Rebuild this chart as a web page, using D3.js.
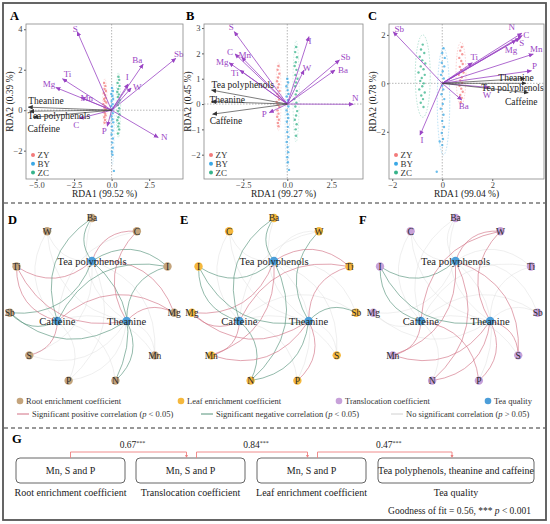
<!DOCTYPE html>
<html><head><meta charset="utf-8">
<script src="https://cdn.jsdelivr.net/npm/d3@7"></script>
<style>
body{margin:0;background:#fff}
text{font-family:"Liberation Serif","Times New Roman",serif}
</style></head><body>
<div id="fig"></div>
<script>
// ---- RDA sample scores ----
var groups = ['ZY','BY','ZC'];
var groupColours = {ZY:'#F27A7A', BY:'#3AA8E6', ZC:'#36B38A'};

var ptsA_ZY = [[-0.5,1.35],[-0.42,1.2],[-0.47,1.05],[-0.38,0.95],[-0.52,0.85],[-0.44,0.75],[-0.4,0.62],[-0.5,0.55],[-0.46,0.45],[-0.36,0.38],[-0.55,0.3],[-0.43,0.2],[-0.48,0.12],[-0.39,0.05],[-0.52,-0.05],[-0.45,-0.15],[-0.41,-0.25],[-0.49,-0.35],[-0.44,-0.48],[-0.47,-0.62]];
var ptsA_BY = [[0.02,1.1],[0.08,0.95],[-0.02,0.8],[0.05,0.7],[0.1,0.55],[0.0,0.45],[0.06,0.3],[-0.03,0.2],[0.09,0.1],[0.03,0.0],[0.07,-0.15],[-0.01,-0.3],[0.05,-0.45],[0.1,-0.6],[0.02,-0.8],[0.06,-1.0],[0.0,-1.2],[0.08,-1.4],[0.04,-1.6],[0.07,-1.85],[0.02,-2.05],[0.05,-2.2],[0.15,-3.0]];
var ptsA_ZC = [[0.45,1.65],[0.5,1.5],[0.4,1.35],[0.52,1.2],[0.44,1.05],[0.38,0.9],[0.48,0.78],[0.42,0.65],[0.55,0.5],[0.46,0.38],[0.4,0.25],[0.5,0.1],[0.43,-0.05],[0.52,-0.2],[0.45,-0.35],[0.38,-0.5],[0.48,-0.65],[0.44,-0.8],[0.5,-0.95],[0.42,-1.15]];

var ptsB_ZY = [[-0.5,1.5],[-0.55,1.35],[-0.45,1.2],[-0.52,1.05],[-0.58,0.9],[-0.48,0.78],[-0.53,0.65],[-0.44,0.52],[-0.56,0.4],[-0.5,0.3],[-0.47,0.18],[-0.6,0.08],[-0.52,-0.02],[-0.45,-0.12],[-0.55,-0.25],[-0.5,-0.38],[-0.57,-0.5],[-0.48,-0.62],[-0.53,-0.75],[-0.5,-0.88]];
var ptsB_BY = [[0.0,1.0],[0.05,0.85],[-0.05,0.7],[0.02,0.55],[0.07,0.4],[-0.03,0.3],[0.04,0.15],[0.0,0.05],[0.06,-0.1],[-0.04,-0.25],[0.02,-0.4],[0.05,-0.55],[-0.02,-0.7],[0.03,-0.9],[0.0,-1.1],[0.06,-1.3],[-0.03,-1.5],[0.02,-1.7],[0.05,-1.9],[0.0,-2.1],[0.03,-2.3],[0.1,-2.6]];
var ptsB_ZC = [[0.5,2.25],[0.45,2.05],[0.55,1.85],[0.48,1.65],[0.42,1.5],[0.52,1.35],[0.46,1.15],[0.58,1.0],[0.5,0.85],[0.44,0.7],[0.54,0.52],[0.48,0.38],[0.4,0.2],[0.52,0.05],[0.46,-0.1],[0.56,-0.28],[0.5,-0.45],[0.43,-0.62],[0.53,-0.8],[0.48,-1.0],[0.5,-1.25]];

var ptsC_ZY = [[0.78,1.5],[0.72,1.35],[0.8,1.2],[0.68,1.05],[0.76,0.92],[0.82,0.8],[0.7,0.68],[0.75,0.55],[0.85,0.45],[0.66,0.35],[0.78,0.25],[0.72,0.12],[0.8,0.02],[0.69,-0.1],[0.76,-0.22],[0.82,-0.35],[0.72,-0.48],[0.78,-0.6],[0.74,-0.78]];
var ptsC_BY = [[0.05,1.45],[0.0,1.25],[0.1,1.05],[-0.02,0.85],[0.08,0.7],[0.02,0.5],[-0.05,0.35],[0.06,0.2],[0.12,0.05],[0.0,-0.1],[0.04,-0.25],[-0.03,-0.45],[0.08,-0.65],[0.02,-0.85],[-0.06,-1.05],[0.05,-1.3],[0.0,-1.55],[0.07,-1.8],[-0.02,-2.05],[0.03,-2.3],[0.0,-2.55],[-0.1,-2.4],[-0.22,-3.65]];
var ptsC_ZC = [[-0.78,1.6],[-0.85,1.4],[-0.72,1.25],[-0.9,1.1],[-0.8,0.95],[-0.68,0.82],[-0.86,0.7],[-0.75,0.58],[-0.95,0.45],[-0.7,0.35],[-0.82,0.22],[-0.88,0.1],[-0.74,0.0],[-0.8,-0.12],[-0.92,-0.25],[-0.7,-0.38],[-0.84,-0.5],[-0.77,-0.65],[-0.86,-0.8],[-0.75,-0.98]];

// confidence ellipses: group, centre x, centre y, half width, half height
var ellA = [['ZY',-0.45,0.35,0.15,1.2],['BY',0.05,-0.7,0.12,2.0],['ZC',0.45,0.25,0.15,1.6]];
var ellB = [['ZY',-0.5,0.3,0.15,1.35],['BY',0.0,-0.8,0.12,1.9],['ZC',0.5,0.5,0.18,2.0]];
var ellC = [['ZY',0.75,0.4,0.2,1.3],['BY',0.05,-0.75,0.25,2.2],['ZC',-0.78,0.3,0.3,1.7]];

// element loadings (arrow tips)
var envA = [['S',-2.29,3.88],['Ba',2.1,2.28],['Sb',4.27,2.56],['Ti',-3.27,1.55],['Mg',-3.71,1.12],['Mn',-2.05,0.63],['I',1.1,1.3],['W',1.3,1.1],['C',-2.16,-0.41],['P',-0.29,-0.79],['N',3.1,-1.35]];
var envB = [['S',-3.01,2.86],['C',-2.97,1.98],['Mn',-2.59,1.85],['Mg',-3.3,1.63],['Ti',-2.69,1.34],['I',1.23,2.66],['W',0.95,1.34],['Sb',2.96,1.74],['Ba',2.71,1.34],['N',3.75,-0.01],['P',-1.02,-0.34]];
var envC = [['Sb',-1.96,2.13],['N',3.18,2.07],['C',3.2,1.97],['S',3.1,1.86],['Mg',2.95,1.78],['Mn',3.64,1.21],['Ti',1.2,0.85],['P',3.57,0.52],['W',1.87,-0.17],['Ba',0.78,-0.69],['I',-0.89,-2.14]];
// tea quality loadings
var teaA = [['Theanine',-5.55,0.15],['Tea polyphenols',-5.45,-0.05],['Caffeine',-5.2,-0.35]];
var teaB = [['Tea polyphenols',-4.3,0.55],['Theanine',-4.3,0.1],['Caffeine',-4.24,-0.4]];
var teaC = [['Theanine',3.31,0.2],['Tea polyphenols',3.35,0.0],['Caffeine',3.44,-0.39]];

var xTicksA = [-5,-2.5,0,2.5], yTicksA = [-2,0,2,4];
var xTicksB = [-2.5,0,2.5],    yTicksB = [-2,-1,0,1,2,3];
var xTicksC = [-2,0,2],        yTicksC = [-2,0,2];

// ---- correlation networks ----
var elements = ['Ba','C','I','Mg','Mn','N','P','S','Sb','Ti','W'];
var quality = ['Tea polyphenols','Caffeine','Theanine'];
var ringD = ['Ba','C','I','Mg','Mn','N','P','S','Sb','Ti','W'];
var ringEF = ['Ba','W','Ti','Sb','S','P','N','Mn','Mg','I','C'];
// p = significant positive, n = significant negative, 0 = not significant (order = elements)
var sigD_tp  = ['n','p','n','p','0','n','0','0','n','p','0'];
var sigD_caf = ['n','0','n','p','0','0','0','p','n','p','0'];
var sigD_the = ['0','p','n','p','0','n','0','0','n','p','0'];
var sigE_tp  = ['n','0','n','p','p','n','0','0','0','p','0'];
var sigE_caf = ['n','0','n','p','p','n','0','0','0','p','0'];
var sigE_the = ['0','0','n','p','p','n','p','0','n','p','n'];
var sigF_tp  = ['0','0','n','0','p','p','0','p','0','0','p'];
var sigF_caf = ['0','0','n','0','p','0','p','0','0','0','p'];
var sigF_the = ['0','0','n','0','p','p','p','p','0','0','p'];

// ---- PLS-PM ----
var blockNames = ['Root enrichment coefficient','Translocation coefficient','Leaf enrichment coefficient','Tea quality'];
var blockItems = ['Mn, S and P','Mn, S and P','Mn, S and P','Tea polyphenols, theanine and caffeine'];
var pathCoefs = ['0.67','0.84','0.47'];

// ---- drawing ----
var purple = '#9A45C4';
var svg = d3.select('#fig').append('svg').attr('width', 550).attr('height', 524);
var defs = svg.append('defs');
function marker(id, col){
  defs.append('marker').attr('id', id).attr('viewBox','0 0 10 10').attr('refX',9).attr('refY',5)
    .attr('markerWidth',5).attr('markerHeight',5).attr('markerUnits','userSpaceOnUse').attr('orient','auto')
    .append('path').attr('d','M0,0.5L10,5L0,9.5z').attr('fill', col);
}
marker('arrP', purple); marker('arrK', '#333');

svg.append('rect').attr('x',3).attr('y',3).attr('width',543).attr('height',517)
  .attr('fill','none').attr('stroke','#555').attr('stroke-width',1.8);
[203,428].forEach(function(y){
  svg.append('line').attr('x1',4).attr('x2',545).attr('y1',y).attr('y2',y)
    .attr('stroke','#333').attr('stroke-width',1.2).attr('stroke-dasharray','4,3');
});

var nudge = {
  A: {S:[-2,-3],Ba:[-6,-4],Sb:[3,-5],Ti:[5,-5],Mg:[-7,-4],Mn:[6,0],I:[-1,-7],W:[6,-1],C:[-3,6],P:[-3,5],N:[6,-1],
      'Theanine':[0,-6.5,'start'],'Tea polyphenols':[-2,4,'start'],'Caffeine':[-6,11,'start']},
  B: {S:[-3,-5],C:[-5,-2],Mn:[3,-2],Mg:[-7,-1],Ti:[-5,3],I:[1,4],W:[3,-2],Sb:[6,-3],Ba:[8,0],N:[2,-6],P:[-5,1],
      'Tea polyphenols':[0,-5,'start'],'Theanine':[-2,-2,'start'],'Caffeine':[-3,7,'start']},
  C: {Sb:[6,-3],N:[-10,-6],C:[4,-1],S:[2,5],Mg:[-5,10],Mn:[3,-5],Ti:[2,-6],P:[3,-5],W:[-2,7],Ba:[2,6],I:[2,5],
      'Theanine':[-9,-1,'middle'],'Tea polyphenols':[-13.5,4.4,'middle'],'Caffeine':[-7,9,'middle']}
};

var panels = [
  {id:'A', x0:26, x1:183, xd:[-5.7,4.75], yd:[-3.4,4.26], xt:xTicksA, yt:yTicksA, xf:'.1f', lx:10,
   xl:'RDA1 (99.52 %)', yl:'RDA2 (0.39 %)', pts:{ZY:ptsA_ZY,BY:ptsA_BY,ZC:ptsA_ZC}, ell:ellA, env:envA, tea:teaA},
  {id:'B', x0:204, x1:363, xd:[-4.73,4.3], yd:[-2.96,3.16], xt:xTicksB, yt:yTicksB, xf:'.1f', lx:186,
   xl:'RDA1 (99.27 %)', yl:'RDA2 (0.45 %)', pts:{ZY:ptsB_ZY,BY:ptsB_BY,ZC:ptsB_ZC}, ell:ellB, env:envB, tea:teaB},
  {id:'C', x0:389, x1:544, xd:[-2.13,4.07], yd:[-3.95,2.45], xt:xTicksC, yt:yTicksC, xf:'d', lx:368,
   xl:'RDA1 (99.04 %)', yl:'RDA2 (0.78 %)', pts:{ZY:ptsC_ZY,BY:ptsC_BY,ZC:ptsC_ZC}, ell:ellC, env:envC, tea:teaC}
];
var top0 = 24, bot0 = 179;

panels.forEach(function(p){
  var x = d3.scaleLinear().domain(p.xd).range([p.x0, p.x1]);
  var y = d3.scaleLinear().domain(p.yd).range([bot0, top0]);
  var g = svg.append('g');
  var nd = nudge[p.id];

  g.append('line').attr('x1',x(0)).attr('x2',x(0)).attr('y1',top0).attr('y2',bot0)
    .attr('stroke','#888').attr('stroke-width',0.6).attr('stroke-dasharray','1.5,1.5');
  g.append('line').attr('x1',p.x0).attr('x2',p.x1).attr('y1',y(0)).attr('y2',y(0))
    .attr('stroke','#888').attr('stroke-width',0.6).attr('stroke-dasharray','1.5,1.5');

  g.selectAll('ellipse').data(p.ell).enter().append('ellipse')
    .attr('cx', function(d){ return x(d[1]); }).attr('cy', function(d){ return y(d[2]); })
    .attr('rx', function(d){ return x(d[1]+d[3]) - x(d[1]); })
    .attr('ry', function(d){ return y(d[2]) - y(d[2]+d[4]); })
    .attr('fill','none').attr('stroke', function(d){ return groupColours[d[0]]; })
    .attr('stroke-width',0.5).attr('stroke-dasharray','1.5,1.5').attr('opacity', p.id === 'C' ? 0.7 : 0.45);

  groups.forEach(function(gr){
    g.append('g').selectAll('circle').data(p.pts[gr]).enter().append('circle')
      .attr('cx', function(d){ return x(d[0]); }).attr('cy', function(d){ return y(d[1]); })
      .attr('r', 1.2).attr('fill', groupColours[gr]).attr('opacity', 0.75);
  });

  // element arrows
  p.env.forEach(function(d){
    g.append('line').attr('x1',x(0)).attr('y1',y(0)).attr('x2',x(d[1])).attr('y2',y(d[2]))
      .attr('stroke',purple).attr('stroke-width',0.8).attr('marker-end','url(#arrP)');
    var o = nd[d[0]] || [0,0];
    g.append('text').attr('x', x(d[1]) + o[0]).attr('y', y(d[2]) + o[1]).attr('dy','0.35em')
      .attr('text-anchor', o[2] || 'middle').attr('font-size', 9).attr('fill', purple).text(d[0]);
  });
  // tea quality arrows
  p.tea.forEach(function(d){
    g.append('line').attr('x1',x(0)).attr('y1',y(0)).attr('x2',x(d[1])).attr('y2',y(d[2]))
      .attr('stroke','#444').attr('stroke-width',0.7).attr('marker-end','url(#arrK)');
  });
  p.tea.forEach(function(d){
    var o = nd[d[0]] || [0,0];
    g.append('text').attr('x', x(d[1]) + o[0]).attr('y', y(d[2]) + o[1]).attr('dy','0.35em')
      .attr('text-anchor', o[2] || 'middle').attr('font-size', 9.5).attr('fill', '#222').text(d[0]);
  });

  // legend
  groups.forEach(function(gr, i){
    g.append('circle').attr('cx', p.x0 + 7).attr('cy', 155 + i*8.8).attr('r', 2).attr('fill', groupColours[gr]);
    g.append('text').attr('x', p.x0 + 11.5).attr('y', 155 + i*8.8).attr('dy','0.35em')
      .attr('font-size', 9).attr('fill','#333').text(gr);
  });

  // axes
  var xa = g.append('g').attr('transform','translate(0,' + bot0 + ')')
    .call(d3.axisBottom(x).tickValues(p.xt).tickFormat(d3.format(p.xf)).tickSize(2).tickPadding(1));
  var ya = g.append('g').attr('transform','translate(' + p.x0 + ',0)')
    .call(d3.axisLeft(y).tickValues(p.yt).tickFormat(d3.format('d')).tickSize(2).tickPadding(1.5));
  [xa, ya].forEach(function(a){
    a.select('.domain').remove();
    a.selectAll('line').attr('stroke','#555');
    a.selectAll('text').attr('font-size', 8.5).attr('fill','#444').style('font-family','Liberation Serif');
  });
  g.append('rect').attr('x',p.x0).attr('y',top0).attr('width',p.x1-p.x0).attr('height',bot0-top0)
    .attr('fill','none').attr('stroke','#888').attr('stroke-width',0.8);

  g.append('text').attr('x',(p.x0+p.x1)/2).attr('y',197).attr('text-anchor','middle')
    .attr('font-size',9.5).attr('fill','#222').text(p.xl);
  g.append('text').attr('transform','translate(' + (p.x0-16.5) + ',' + ((top0+bot0)/2) + ') rotate(-90)')
    .attr('text-anchor','middle').attr('dy','0.35em').attr('font-size',9.5).attr('fill','#222').text(p.yl);
  g.append('text').attr('x',p.lx).attr('y',20).attr('font-size',12.5).attr('font-weight','bold').text(p.id);
});

// networks
var nodeColours = {root:'#C4A47C', leaf:'#F5B83D', trans:'#C7A1D9', quality:'#4C9ED9'};
var edgeColours = {p:'#D27184', n:'#55937A', '0':'#DDDDDD'};
var nets = [
  {id:'D', cx:92,    lx:8,   ring:ringD,  col:nodeColours.root,  sig:[sigD_tp,sigD_caf,sigD_the]},
  {id:'E', cx:274,   lx:180, ring:ringEF, col:nodeColours.leaf,  sig:[sigE_tp,sigE_caf,sigE_the]},
  {id:'F', cx:455.5, lx:359, ring:ringEF, col:nodeColours.trans, sig:[sigF_tp,sigF_caf,sigF_the]}
];
var cy = 301, R = 83, r = 40;
var ang = d3.scaleLinear().domain([0, 11]).range([-Math.PI/2, 1.5*Math.PI]);
var innerAng = {'Tea polyphenols':-Math.PI/2, 'Caffeine':Math.PI*5/6, 'Theanine':Math.PI/6};

function arcPath(s, t){
  var dx = t[0]-s[0], dy = t[1]-s[1];
  var qx = (s[0]+t[0])/2 + dy*0.38, qy = (s[1]+t[1])/2 - dx*0.38;
  return 'M' + s[0] + ',' + s[1] + 'Q' + qx + ',' + qy + ' ' + t[0] + ',' + t[1];
}

nets.forEach(function(n){
  var g = svg.append('g');
  var pos = {};
  n.ring.forEach(function(e, i){ pos[e] = [n.cx + R*Math.cos(ang(i)), cy + R*Math.sin(ang(i))]; });
  quality.forEach(function(q){ pos[q] = [n.cx + r*Math.cos(innerAng[q]), cy + r*Math.sin(innerAng[q])]; });
  var links = [];
  quality.forEach(function(q, qi){
    elements.forEach(function(e, ei){ links.push({s:q, t:e, k:n.sig[qi][ei]}); });
  });
  links.sort(function(a, b){ return (a.k === '0' ? 0 : 1) - (b.k === '0' ? 0 : 1); });
  g.selectAll('path').data(links).enter().append('path')
    .attr('d', function(d){ return arcPath(pos[d.s], pos[d.t]); })
    .attr('fill','none').attr('stroke', function(d){ return edgeColours[d.k]; })
    .attr('stroke-width', function(d){ return d.k === '0' ? 0.55 : 0.8; })
    .attr('opacity', function(d){ return d.k === '0' ? 0.85 : 0.8; });

  n.ring.forEach(function(e){
    g.append('circle').attr('cx',pos[e][0]).attr('cy',pos[e][1]).attr('r',4.2).attr('fill',n.col);
    g.append('text').attr('x',pos[e][0]).attr('y',pos[e][1]).attr('dy','0.35em').attr('text-anchor','middle')
      .attr('font-size',9.5).attr('fill','#2a2a2a').text(e);
  });
  quality.forEach(function(q){
    g.append('circle').attr('cx',pos[q][0]).attr('cy',pos[q][1]).attr('r',4.2).attr('fill',nodeColours.quality);
    g.append('text').attr('x',pos[q][0]).attr('y',pos[q][1]).attr('dy','0.35em').attr('text-anchor','middle')
      .attr('font-size',10.5).attr('fill','#222').text(q);
  });
  g.append('text').attr('x',n.lx).attr('y',224).attr('font-size',12.5).attr('font-weight','bold').text(n.id);
});

// network legend
var legDots = [['Root enrichment coefficient',nodeColours.root,20],['Leaf enrichment coefficient',nodeColours.leaf,181],
               ['Translocation coefficient',nodeColours.trans,339],['Tea quality',nodeColours.quality,488]];
legDots.forEach(function(d){
  svg.append('circle').attr('cx',d[2]).attr('cy',401).attr('r',3.3).attr('fill',d[1]);
  svg.append('text').attr('x',d[2]+6).attr('y',401).attr('dy','0.35em').attr('font-size',8.5).attr('fill','#333').text(d[0]);
});
var legLines = [['Significant positive correlation (','<',edgeColours.p,17],['Significant negative correlation (','<',edgeColours.n,201],
                ['No significant correlation (','>','#D0D0D0',391]];
legLines.forEach(function(d){
  svg.append('line').attr('x1',d[3]).attr('x2',d[3]+12).attr('y1',414).attr('y2',414).attr('stroke',d[2]).attr('stroke-width',1);
  var t = svg.append('text').attr('x',d[3]+15).attr('y',414).attr('dy','0.35em').attr('font-size',8.5).attr('fill','#333');
  t.append('tspan').text(d[0]);
  t.append('tspan').attr('font-style','italic').text('p');
  t.append('tspan').text(' ' + d[1] + ' 0.05)');
});

// G: PLS-PM
svg.append('text').attr('x',12).attr('y',443).attr('font-size',12.5).attr('font-weight','bold').text('G');
var boxX = [[16,125],[136,245],[257,366],[378,534]];
var by0 = 458, by1 = 483;
blockNames.forEach(function(b, i){
  var bx = boxX[i];
  svg.append('rect').attr('x',bx[0]).attr('y',by0).attr('width',bx[1]-bx[0]).attr('height',by1-by0).attr('rx',4)
    .attr('fill','#fff').attr('stroke','#555').attr('stroke-width',0.9);
  svg.append('text').attr('x',(bx[0]+bx[1])/2).attr('y',(by0+by1)/2).attr('dy','0.35em').attr('text-anchor','middle')
    .attr('font-size',10).attr('fill','#222').text(blockItems[i]);
  svg.append('text').attr('x',(bx[0]+bx[1])/2).attr('y',492).attr('dy','0.35em').attr('text-anchor','middle')
    .attr('font-size',10).attr('fill','#222').text(b);
});
var pathRed = '#EE8080';
pathCoefs.forEach(function(c, i){
  var s = (boxX[i][0]+boxX[i][1])/2 + (i ? 6 : 0), t = (boxX[i+1][0]+boxX[i+1][1])/2 - 4;
  svg.append('path').attr('d','M'+s+','+by0+'V452H'+t+'V'+(by0-1))
    .attr('fill','none').attr('stroke',pathRed).attr('stroke-width',0.9);
  svg.append('path').attr('d','M'+(t-1.5)+','+(by0-3)+'L'+t+','+by0+'L'+(t+1.5)+','+(by0-3)+'z').attr('fill',pathRed);
  var tx = svg.append('text').attr('x',(s+t)/2 + 4).attr('y',448).attr('text-anchor','middle').attr('font-size',9.5).attr('fill','#222');
  tx.append('tspan').text(c);
  tx.append('tspan').attr('font-size',6).attr('dy',-3).text('***');
});
var gof = svg.append('text').attr('x',531).attr('y',514).attr('text-anchor','end').attr('font-size',9.5).attr('fill','#222');
gof.append('tspan').text('Goodness of fit = 0.56, *** ');
gof.append('tspan').attr('font-style','italic').text('p');
gof.append('tspan').text(' < 0.001');
</script></body></html>
